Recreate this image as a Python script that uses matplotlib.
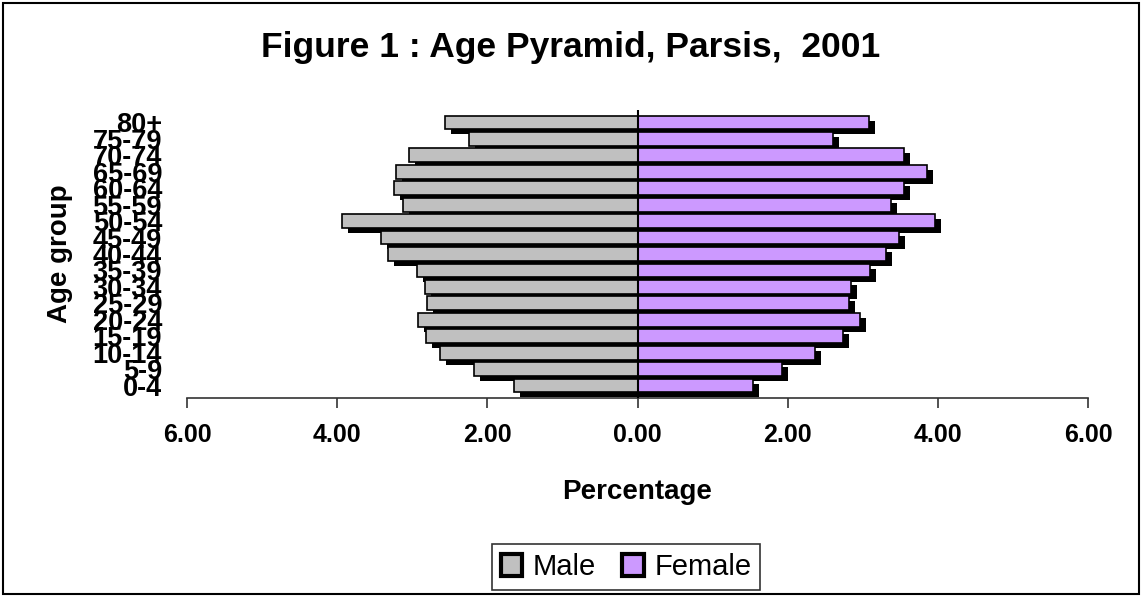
import matplotlib
matplotlib.use("Agg")
import matplotlib.pyplot as plt
import matplotlib.transforms as mtransforms
from matplotlib.patches import Patch, Rectangle
import numpy as np

# Age groups, bottom to top
age_groups = ['0-4', '5-9', '10-14', '15-19', '20-24', '25-29', '30-34', '35-39',
              '40-44', '45-49', '50-54', '55-59', '60-64', '65-69', '70-74', '75-79', '80+']
male = [1.65, 2.18, 2.63, 2.82, 2.92, 2.81, 2.83, 2.94,
        3.32, 3.42, 3.93, 3.12, 3.24, 3.21, 3.04, 2.24, 2.57]
female = [1.54, 1.92, 2.37, 2.74, 2.96, 2.82, 2.84, 3.10,
          3.31, 3.48, 3.96, 3.37, 3.55, 3.86, 3.55, 2.61, 3.08]
xticks = [-6, -4, -2, 0, 2, 4, 6]
xtick_labels = ['6.00', '4.00', '2.00', '0.00', '2.00', '4.00', '6.00']

plt.rcParams['font.family'] = ['Liberation Sans', 'DejaVu Sans']

W, H = 1142, 596
fig = plt.figure(figsize=(W / 100, H / 100), dpi=100)
ax = fig.add_axes([187 / W, 1 - 398 / H, (1088 - 187) / W, 288 / H])

y = np.arange(len(age_groups))
male_neg = -np.array(male)
h = 0.84

# black drop shadow, shifted right and down
shadow = ax.transData + mtransforms.ScaledTranslation(0.06, -0.05, fig.dpi_scale_trans)
ax.barh(y, male_neg, height=h, color='black', transform=shadow, zorder=1)
ax.barh(y, female, height=h, color='black', transform=shadow, zorder=1)

ax.barh(y, male_neg, height=h, color='#C0C0C0', edgecolor='black', linewidth=1.2,
        label='Male', zorder=2)
ax.barh(y, female, height=h, color='#CC99FF', edgecolor='black', linewidth=1.2,
        label='Female', zorder=2)
ax.axvline(0, color='black', linewidth=1.5, zorder=3)

ax.set_xlim(-6, 6)
ax.set_ylim(-0.76, len(age_groups) - 1 + 0.76)
ax.set_xticks(xticks)
ax.set_xticklabels(xtick_labels, fontsize=18, fontweight='bold')
ax.set_yticks(y)
ax.set_yticklabels(age_groups, fontsize=19.5, fontweight='bold')
ax.tick_params(axis='y', length=0, pad=18)
ax.tick_params(axis='x', length=7, width=1.2, direction='out', pad=11, color='#333333')

for s in ['top', 'right', 'left']:
    ax.spines[s].set_visible(False)
ax.spines['bottom'].set_linewidth(1.2)
ax.spines['bottom'].set_color('#333333')

ax.set_xlabel('Percentage', fontsize=20, fontweight='bold', labelpad=23)
ax.set_ylabel('Age group', fontsize=20, fontweight='bold')
ax.yaxis.set_label_coords((73 - 187) / (1088 - 187), 0.5)

fig.text(0.5, 1 - 47 / H, 'Figure 1 : Age Pyramid, Parsis,  2001', ha='center', va='center',
         fontsize=25.5, fontweight='bold')

handles = [Patch(facecolor='#C0C0C0', edgecolor='black', linewidth=3, label='Male'),
           Patch(facecolor='#CC99FF', edgecolor='black', linewidth=3, label='Female')]
leg = fig.legend(handles=handles, loc='center', bbox_to_anchor=(626 / W, 1 - 567 / H),
                 ncol=2, fontsize=21, frameon=True, fancybox=False, handlelength=0.75,
                 handleheight=0.75, handletextpad=0.35, columnspacing=0.9, borderpad=0.3,
                 borderaxespad=0)
leg.get_frame().set_edgecolor('black')
leg.get_frame().set_linewidth(1.2)

# outer chart border
fig.patches.append(Rectangle((3 / W, 2 / H), 1 - 6 / W, 1 - 5 / H,
                             transform=fig.transFigure, fill=False, edgecolor='black',
                             linewidth=1.5))

fig.savefig('out.png', dpi=100)
